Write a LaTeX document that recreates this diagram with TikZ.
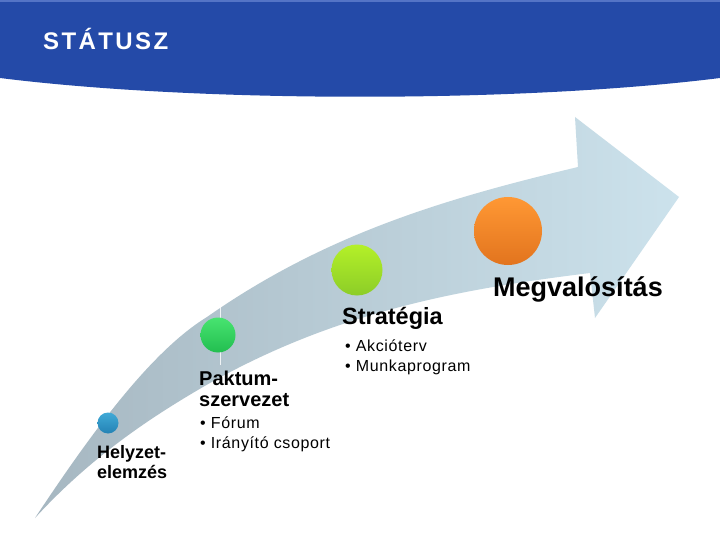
\documentclass[tikz,border=0pt]{standalone}
\usepackage{fontspec}
\setmainfont{Liberation Sans}
\newfontfamily\spacedfont[LetterSpace=4]{Liberation Sans}
\newfontfamily\titlefont[LetterSpace=10]{Liberation Sans}
\usepackage{tikz}
\usetikzlibrary{positioning}

\definecolor{headblue}{RGB}{36,74,168}
\definecolor{headtop}{RGB}{84,116,198}
\definecolor{bandgray}{RGB}{166,183,193}
\definecolor{bandblue}{RGB}{204,226,236}
\definecolor{blueA}{RGB}{64,170,215}
\definecolor{blueB}{RGB}{36,130,180}
\definecolor{greenA}{RGB}{72,228,112}
\definecolor{greenB}{RGB}{34,190,80}
\definecolor{limeA}{RGB}{180,240,40}
\definecolor{limeB}{RGB}{140,205,40}
\definecolor{orangeA}{RGB}{255,152,52}
\definecolor{orangeB}{RGB}{226,116,30}

\begin{document}
\begin{tikzpicture}[x=1pt, y=-1pt,
		dot/.style={circle, inner sep=0pt},
		stage/.style={inner sep=0pt, align=left},
		items/.style={inner sep=0pt, align=left, anchor=north west, font=\spacedfont\fontsize{16}{20}\selectfont}]
		\fill[white] (0,0) rectangle (720,540);
		
		\fill[headblue] (0,0) -- (720,0) -- (720,78) .. controls (520,103) and (200,103) .. (0,78) -- cycle;
		\fill[headtop] (0,0) rectangle (720,2);
		\node[stage, anchor=base west, text=white, font=\titlefont\bfseries\fontsize{24}{26}\selectfont] (title) at (43,50) {STÁTUSZ};
		
		\shade[left color=bandgray, right color=bandblue]
			(35,518) .. controls (90,435) and (150,352) .. (207,317)
			.. controls (327,233) and (448,198) .. (578,167)
			-- (575,117) -- (679,197) -- (595,318) -- (590,273)
			.. controls (460,289) and (333,312) .. (203,387)
			.. controls (148,419) and (90,458) .. (35,518) -- cycle;
		\draw[white, opacity=.8, line width=.8pt] (220,302) -- (220,365);
		
		\node[dot, minimum size=21pt, top color=blueA, bottom color=blueB] (helyzet) at (108,423) {};
		\node[dot, minimum size=35pt, top color=greenA, bottom color=greenB] (paktum) at (218,335) {};
		\node[dot, minimum size=51pt, top color=limeA, bottom color=limeB] (strategia) at (357,270) {};
		\node[dot, minimum size=68pt, top color=orangeA, bottom color=orangeB] (megval) at (508,231) {};
		
		\node[stage, anchor=north west, font=\bfseries\fontsize{18}{20}\selectfont] (helyzettext) at (97,445) {Helyzet-\\elemzés};
		\node[stage, anchor=north west, font=\bfseries\fontsize{20}{21}\selectfont] (paktumtext) at (199,370.5) {Paktum-\\szervezet};
		\node[stage, anchor=base west, font=\bfseries\fontsize{23.5}{26}\selectfont] (strategiatext) at (342,324) {Stratégia};
		\node[stage, anchor=base west, font=\bfseries\fontsize{27}{30}\selectfont] (megvaltext) at (493,296) {Megvalósítás};
		
		\node[items] (paktumlist) at (200,417) {• Fórum\\• Irányító csoport};
		\node[items] (strategialist) at (345,340) {• Akcióterv\\• Munkaprogram};
		
	\end{tikzpicture}
\end{document}
